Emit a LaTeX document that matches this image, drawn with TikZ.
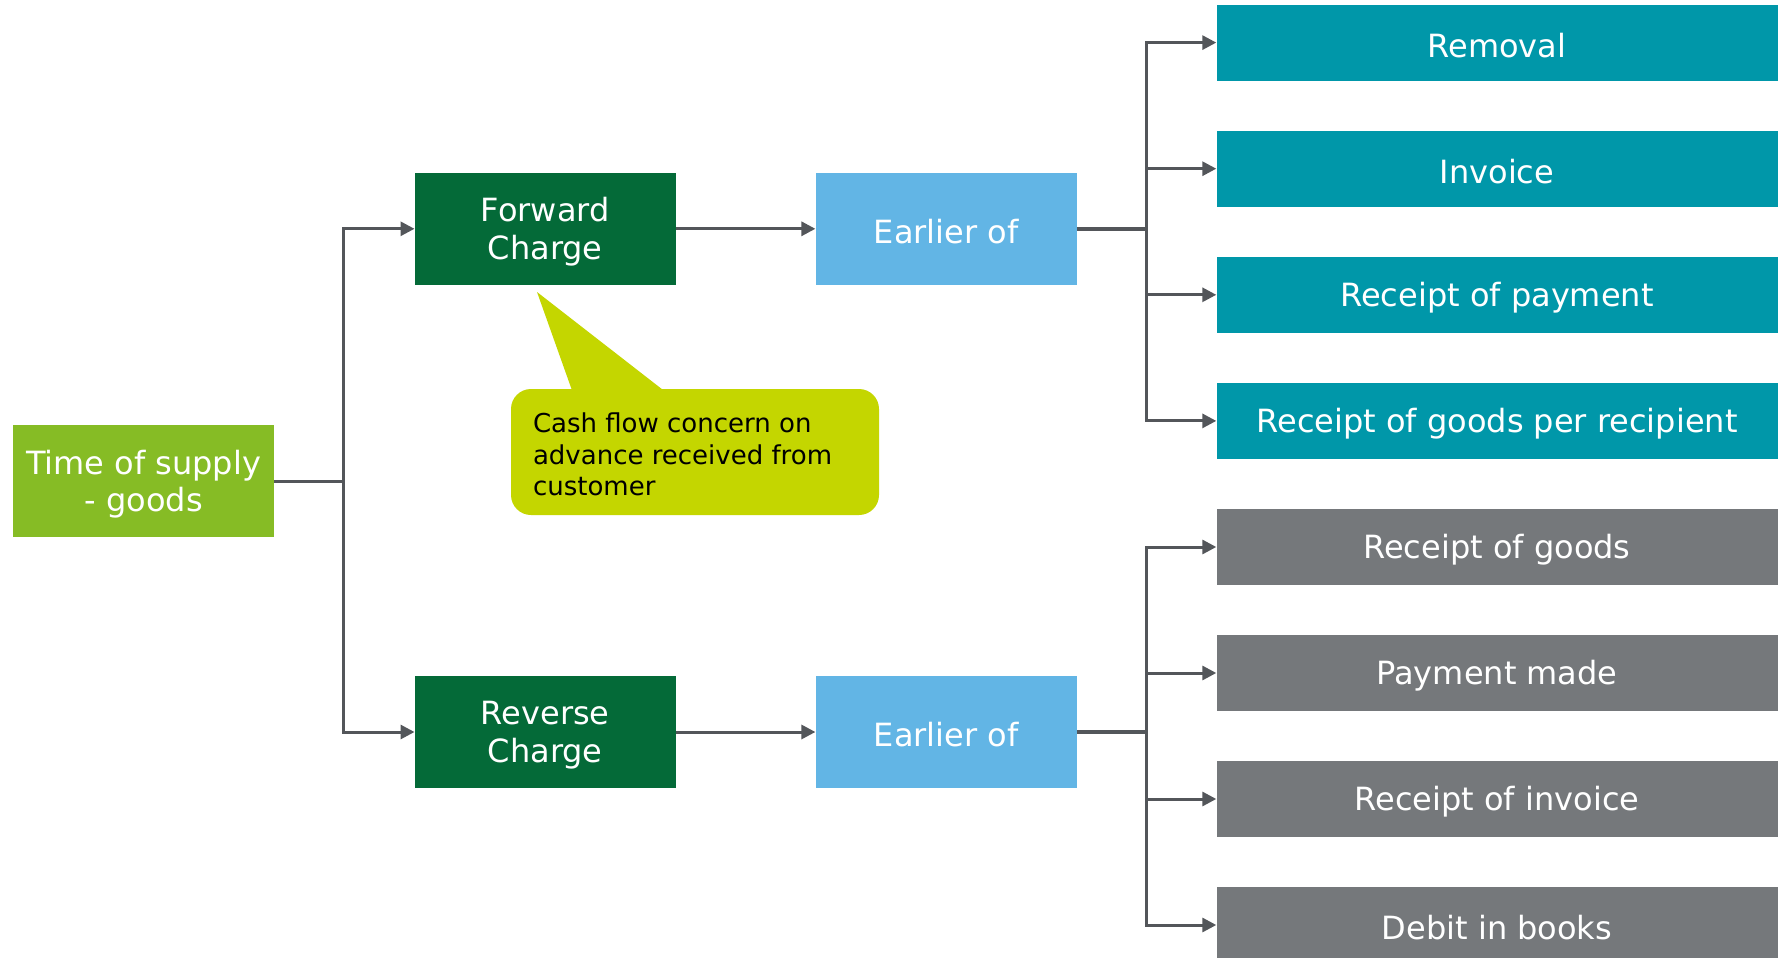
\documentclass[tikz,border=0pt]{standalone}
\usepackage{fontspec}
\setmainfont{DejaVu Sans}
\usetikzlibrary{arrows.meta}
\definecolor{lgreen}{HTML}{86BC25}
\definecolor{dgreen}{HTML}{046A38}
\definecolor{lblue}{HTML}{62B5E5}
\definecolor{teal}{HTML}{0097A9}
\definecolor{greyb}{HTML}{75787B}
\definecolor{lime}{HTML}{C4D600}
\definecolor{linec}{HTML}{53565A}
\tikzset{
  box/.style={inner sep=0pt, minimum width=261pt, minimum height=112pt},
  rbox/.style={inner sep=0pt, minimum width=561pt, minimum height=76pt},
  boxtext/.style={inner sep=0pt, text=white, align=center, font=\fontsize{32}{37.5}\selectfont},
  conn/.style={draw=linec, line width=3pt, -{Triangle[length=14pt,width=14pt]}},
  trunk/.style={draw=linec, line width=4.5pt},
  plain/.style={draw=linec, line width=3pt},
}
\newcommand{\labelbox}[2]{\node[boxtext] (#1t) at ([yshift=-3pt]#1.center) {#2};}
\begin{document}
\begin{tikzpicture}[x=1pt,y=-1pt]
\clip (0,0) rectangle (1781,958);
\fill[white] (0,0) rectangle (1781,958);
% main nodes
\node[box, fill=lgreen] (tos) at (143.7,481) {};
\node[box, fill=dgreen] (fwd) at (545.2,228.8) {};
\node[box, fill=dgreen] (rev) at (545.2,732) {};
\node[box, fill=lblue] (ea) at (946.1,228.8) {};
\node[box, fill=lblue] (eb) at (946.1,732) {};
\labelbox{tos}{Time of supply\\- goods}
\labelbox{fwd}{Forward\\Charge}
\labelbox{rev}{Reverse\\Charge}
\labelbox{ea}{Earlier of}
\labelbox{eb}{Earlier of}
% right boxes
\node[rbox, fill=teal] (ra) at (1497,42.6) {};
\node[rbox, fill=teal] (rb) at (1497,168.7) {};
\node[rbox, fill=teal] (rc) at (1497,294.8) {};
\node[rbox, fill=teal] (rd) at (1497,420.9) {};
\node[rbox, fill=greyb] (ga) at (1497,547) {};
\node[rbox, fill=greyb] (gb) at (1497,673) {};
\node[rbox, fill=greyb] (gc) at (1497,799) {};
\node[rbox, fill=greyb] (gd) at (1497,925) {};
\labelbox{ra}{Removal}
\labelbox{rb}{Invoice}
\labelbox{rc}{Receipt of payment}
\labelbox{rd}{Receipt of goods per recipient}
\labelbox{ga}{Receipt of goods}
\labelbox{gb}{Payment made}
\labelbox{gc}{Receipt of invoice}
\labelbox{gd}{Debit in books}
% callout
\node[fill=lime, rounded corners=20pt, minimum width=368pt, minimum height=126pt, inner sep=0pt] (call) at (695,452) {};
\node[anchor=west, inner sep=0pt, align=left, font=\fontsize{26}{31.8}\selectfont, text=black] (callt)
  at ([xshift=22pt,yshift=-2.5pt]call.west) {Cash flow concern on\\advance received from\\customer};
\coordinate (tip) at (537,292);
\fill[lime] (tip) -- ([xshift=61pt,yshift=-1pt]call.north west) -- ([xshift=152pt,yshift=-1pt]call.north west) -- cycle;
% connectors left
\draw[plain] (tos.east) -- ++(69,0) coordinate (bl);
\draw[conn] (bl) |- (fwd.west);
\draw[conn] (bl) |- (rev.west);
\draw[conn] (fwd.east) -- (ea.west);
\draw[conn] (rev.east) -- (eb.west);
% connectors right top
\draw[trunk] (ea.east) -- ++(69.3,0) coordinate (bt);
\draw[conn] (bt) |- (ra.west);
\draw[conn] (bt) |- (rb.west);
\draw[conn] (bt) |- (rc.west);
\draw[conn] (bt) |- (rd.west);
% connectors right bottom
\draw[trunk] (eb.east) -- ++(69.3,0) coordinate (bb);
\draw[conn] (bb) |- (ga.west);
\draw[conn] (bb) |- (gb.west);
\draw[conn] (bb) |- (gc.west);
\draw[conn] (bb) |- (gd.west);
\end{tikzpicture}
\end{document}
